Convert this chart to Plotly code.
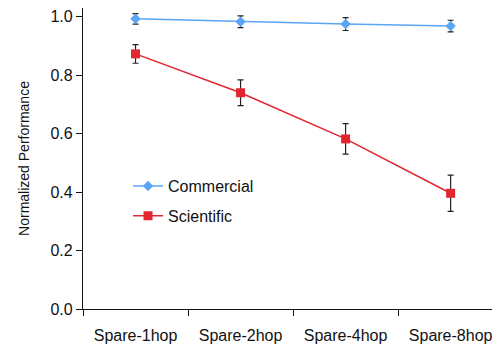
import plotly.graph_objects as go

categories = ["Spare-1hop", "Spare-2hop", "Spare-4hop", "Spare-8hop"]
commercial = [0.993, 0.983, 0.975, 0.968]
commercial_err = [0.018, 0.02, 0.022, 0.02]
scientific = [0.873, 0.740, 0.582, 0.396]
scientific_err = [0.032, 0.044, 0.052, 0.062]
y_ticks = [0.0, 0.2, 0.4, 0.6, 0.8, 1.0]

FONT = "Liberation Sans, Arial, sans-serif"
BLUE = "#5aa5f5"
RED = "#e2262f"

fig = go.Figure()
fig.add_trace(go.Scatter(
    x=categories, y=commercial, name="Commercial", mode="lines+markers",
    line=dict(color=BLUE, width=1.5),
    marker=dict(symbol="diamond", size=8, color=BLUE),
    error_y=dict(type="data", array=commercial_err, color="#222222", thickness=1.2, width=3),
    legendgroup="c",
))
fig.add_trace(go.Scatter(
    x=categories, y=scientific, name="Scientific", mode="lines+markers",
    line=dict(color=RED, width=1.5),
    marker=dict(symbol="square", size=9, color=RED),
    error_y=dict(type="data", array=scientific_err, color="#222222", thickness=1.2, width=3),
    legendgroup="s",
))

fig.update_layout(
    width=492, height=346,
    margin=dict(l=75, r=0, t=0, b=45, autoexpand=False),
    paper_bgcolor="white", plot_bgcolor="white",
    font=dict(family=FONT, size=16, color="#111111"),
    legend=dict(x=0.108, y=0.465, xanchor="left", yanchor="top", bgcolor="rgba(0,0,0,0)",
                font=dict(size=16), traceorder="grouped", tracegroupgap=6),
    xaxis=dict(
        type="category", range=[-0.5, 3.47], tickson="boundaries",
        showline=True, linecolor="#111111", linewidth=1.2,
        ticks="outside", ticklen=6, tickcolor="#111111",
        showgrid=False, zeroline=False, ticklabelstandoff=12,
        tickfont=dict(size=16), automargin=False,
    ),
    yaxis=dict(
        range=[0, 1.03], tickvals=y_ticks, ticktext=[f"{v:.1f}" for v in y_ticks],
        showline=True, linecolor="#111111", linewidth=1.2,
        ticks="outside", ticklen=6, tickcolor="#111111",
        showgrid=False, zeroline=False, automargin=False,
        tickfont=dict(size=16),
        title=dict(text="Normalized Performance", font=dict(size=14), standoff=17),
    ),
)

fig.write_html("out.html")
